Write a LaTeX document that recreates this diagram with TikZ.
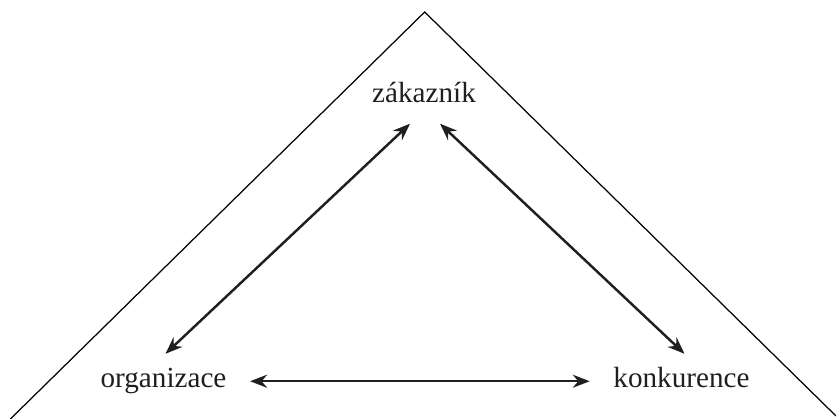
\documentclass[tikz,border=0pt]{standalone}
\usepackage{fontspec}
\setmainfont{Liberation Serif}
\usetikzlibrary{arrows.meta}
\begin{document}
\begin{tikzpicture}
\tikzset{
  word/.style={font=\fontsize{8.3}{10}\selectfont, text=black!88, text height=1.35mm, text depth=0mm, inner xsep=2.3mm, inner ysep=2mm},
  link/.style={{Stealth[length=1.7mm,width=1.3mm]}-{Stealth[length=1.7mm,width=1.3mm]}, line width=0.7pt, black!88}
}
\useasboundingbox (0,0) rectangle (8.36,4.19);

\coordinate (L) at (0.104,0);
\coordinate (T) at (4.247,4.07);
\coordinate (R) at (8.36,0.03);
\draw [line width=0.35pt] (L) -- (T) -- (R);

\node (zak) at (4.24,3.16) [word, anchor=base]{zákazník};
\node (org) at (1.635,0.31) [word, anchor=base]{organizace};
\node (konk) at (6.815,0.31) [word, anchor=base]{konkurence};

\draw [link] ([xshift=-0.14cm]zak.south) -- ([xshift=0.02cm]org.north);
\draw [link] ([xshift=0.16cm]zak.south) -- ([xshift=0.03cm]konk.north);
\draw [link] (org) -- (konk);
\end{tikzpicture}
\end{document}
